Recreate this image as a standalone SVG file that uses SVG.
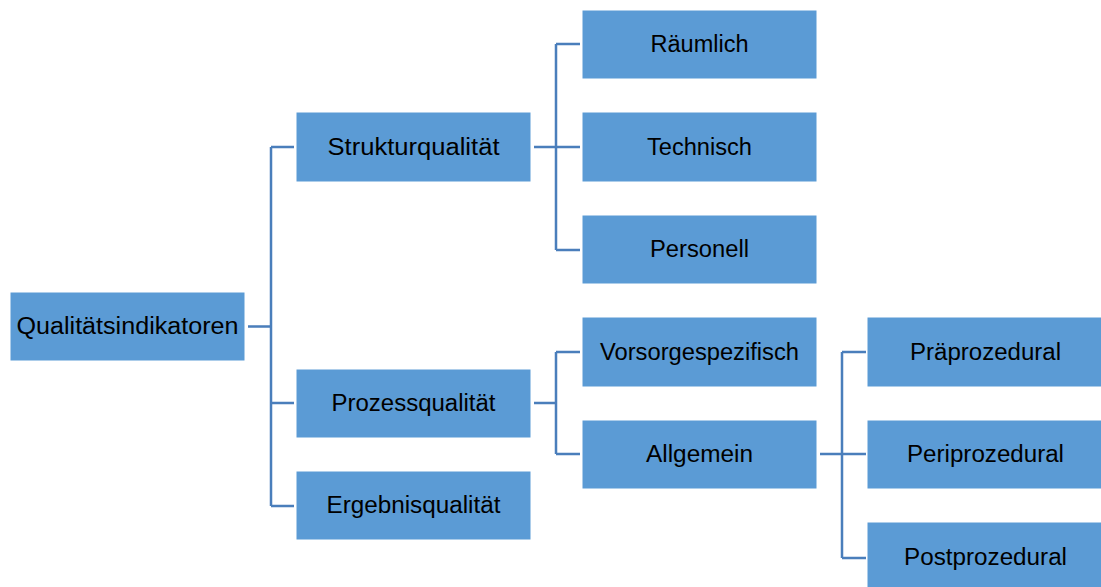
<svg xmlns="http://www.w3.org/2000/svg" width="1101" height="587" viewBox="0 0 1101 587">
<style>
.box{fill:#5B9BD5;stroke:#FFFFFF;stroke-width:1}
.lbl{font-family:"Liberation Sans",Arial,sans-serif;font-size:23px;fill:#000;text-anchor:middle}
.con{fill:none;stroke:#4A7EBB;stroke-width:2.5}
</style>
<rect width="1101" height="587" fill="#FFFFFF"/>
<g id="connectors">
<path class="con" d="M248 326.5H271M271 147V506M271 147H294M271 403H294M271 506H294"/>
<path class="con" d="M534 147H556M556 44V250M556 44H580M556 147H580M556 250H580"/>
<path class="con" d="M534 403H556M556 352V454M556 352H580M556 454H580"/>
<path class="con" d="M820 454H842M842 352V558M842 352H866M842 454H866M842 558H866"/>
</g>
<g id="n-root"><rect class="box" x="10" y="292" width="235" height="69"/><text class="lbl" x="127.5" y="334" textLength="222" lengthAdjust="spacingAndGlyphs">Qualitätsindikatoren</text></g>
<g id="n-struktur"><rect class="box" x="296" y="112" width="235" height="70"/><text class="lbl" x="413.5" y="155" textLength="172" lengthAdjust="spacingAndGlyphs">Strukturqualität</text></g>
<g id="n-prozess"><rect class="box" x="296" y="369" width="235" height="69"/><text class="lbl" x="413.5" y="411" textLength="164" lengthAdjust="spacingAndGlyphs">Prozessqualität</text></g>
<g id="n-ergebnis"><rect class="box" x="296" y="471" width="235" height="69"/><text class="lbl" x="413.5" y="513" textLength="174" lengthAdjust="spacingAndGlyphs">Ergebnisqualität</text></g>
<g id="n-raeumlich"><rect class="box" x="582" y="10" width="235" height="69"/><text class="lbl" x="699.5" y="52" textLength="98" lengthAdjust="spacingAndGlyphs">Räumlich</text></g>
<g id="n-technisch"><rect class="box" x="582" y="112" width="235" height="70"/><text class="lbl" x="699.5" y="155" textLength="105" lengthAdjust="spacingAndGlyphs">Technisch</text></g>
<g id="n-personell"><rect class="box" x="582" y="215" width="235" height="69"/><text class="lbl" x="699.5" y="257" textLength="99" lengthAdjust="spacingAndGlyphs">Personell</text></g>
<g id="n-vorsorge"><rect class="box" x="582" y="317" width="235" height="70"/><text class="lbl" x="699.5" y="360" textLength="199" lengthAdjust="spacingAndGlyphs">Vorsorgespezifisch</text></g>
<g id="n-allgemein"><rect class="box" x="582" y="420" width="235" height="69"/><text class="lbl" x="699.5" y="462" textLength="107" lengthAdjust="spacingAndGlyphs">Allgemein</text></g>
<g id="n-prae"><rect class="box" x="867" y="317" width="235" height="70"/><text class="lbl" x="985.5" y="360" textLength="151" lengthAdjust="spacingAndGlyphs">Präprozedural</text></g>
<g id="n-peri"><rect class="box" x="867" y="420" width="235" height="69"/><text class="lbl" x="985.5" y="462" textLength="157" lengthAdjust="spacingAndGlyphs">Periprozedural</text></g>
<g id="n-post"><rect class="box" x="867" y="522" width="235" height="70"/><text class="lbl" x="985.5" y="565" textLength="163" lengthAdjust="spacingAndGlyphs">Postprozedural</text></g>
</svg>
